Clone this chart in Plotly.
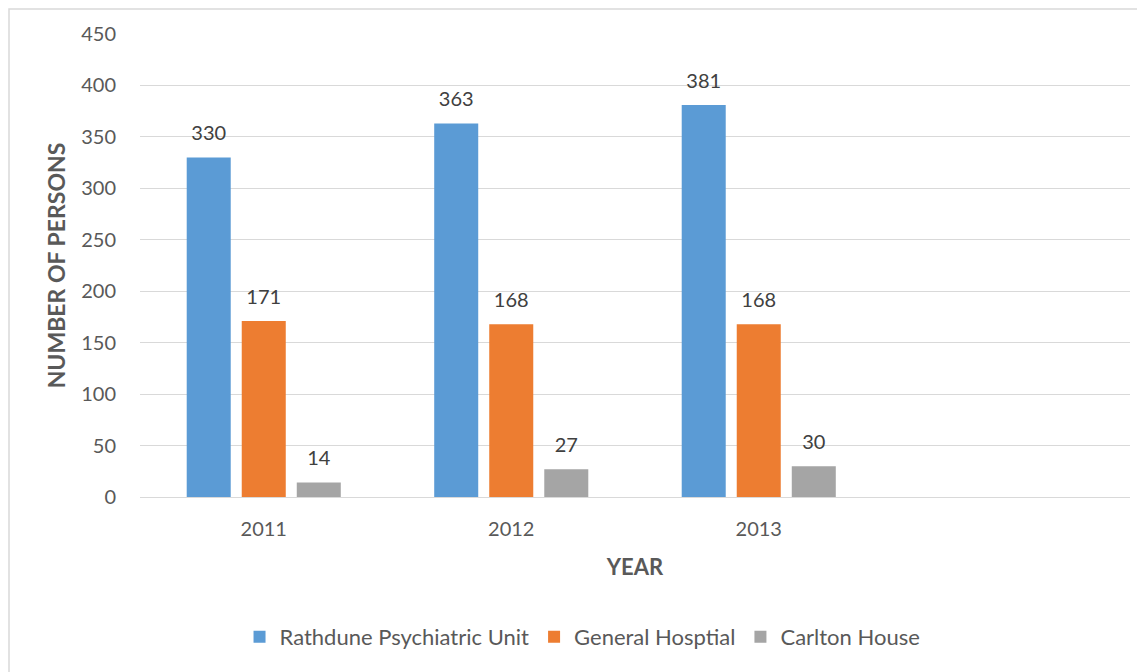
import plotly.graph_objects as go

years = ["2011", "2012", "2013"]
rathdune = [330, 363, 381]
general = [171, 168, 168]
carlton = [14, 27, 30]
series_names = ["Rathdune Psychiatric Unit", "General Hosptial", "Carlton House"]
colors = ["#5B9BD5", "#ED7D31", "#A5A5A5"]
y_ticks = [0, 50, 100, 150, 200, 250, 300, 350, 400, 450]

FONT = "Lato, 'Open Sans', sans-serif"
TXT = "#595959"

L, R, T, B = 132, 15, 26, 175
W, H = 1137, 664
PW, PH = W - L - R, H - T - B

fig = go.Figure()
for i, (name, vals, col) in enumerate(zip(series_names, [rathdune, general, carlton], colors)):
    fig.add_trace(go.Bar(
        x=years, y=vals, name=name, marker_color=col, marker_line_width=0,
        offsetgroup=str(i), hoverinfo="skip",
    ))
for i, vals in enumerate([rathdune, general, carlton]):
    fig.add_trace(go.Scatter(
        x=years, y=vals, mode="markers+text", offsetgroup=str(i),
        text=[str(v) for v in vals], textposition="top center",
        textfont=dict(size=20, color="#404040", family=FONT),
        marker=dict(size=18, opacity=0), showlegend=False, hoverinfo="skip",
        cliponaxis=False,
    ))

fig.update_layout(
    width=W, height=H,
    margin=dict(l=L, r=R, t=T, b=B),
    paper_bgcolor="white", plot_bgcolor="white",
    barmode="group", bargap=0.333, bargroupgap=0.2,
    scattermode="group", scattergap=0.333,
    font=dict(family=FONT, color=TXT, size=20),
    showlegend=True,
    legend=dict(orientation="h", x=0.447, xanchor="center", y=-0.302, yanchor="middle",
                font=dict(size=22, color=TXT), traceorder="normal"),
    xaxis=dict(type="category", categoryorder="array", categoryarray=years,
               range=[-0.5, 3.5], showgrid=False, showline=True, linecolor="#d9d9d9",
               linewidth=1, ticks="", tickfont=dict(size=20, color=TXT),
               ticklabelstandoff=14,
               title=dict(text="<b>YEAR</b>", font=dict(size=22, color=TXT), standoff=20)),
    yaxis=dict(range=[0, 450], tickvals=y_ticks, showgrid=True, gridcolor="#d9d9d9",
               gridwidth=1, zeroline=False, showline=False, ticks="",
               tickfont=dict(size=20, color=TXT), ticklabelstandoff=23,
               title=dict(text="<b>NUMBER OF PERSONS</b>", font=dict(size=23, color=TXT), standoff=9)),
)

# light outer frame (left and top edges visible)
fig.add_shape(type="rect", xref="paper", yref="paper",
              x0=(-L + 1) / PW, x1=1.2, y0=-0.6, y1=(PH + T - 1) / PH,
              line=dict(color="#d9d9d9", width=1.5), fillcolor="rgba(0,0,0,0)", layer="below")

fig.write_html("out.html")
